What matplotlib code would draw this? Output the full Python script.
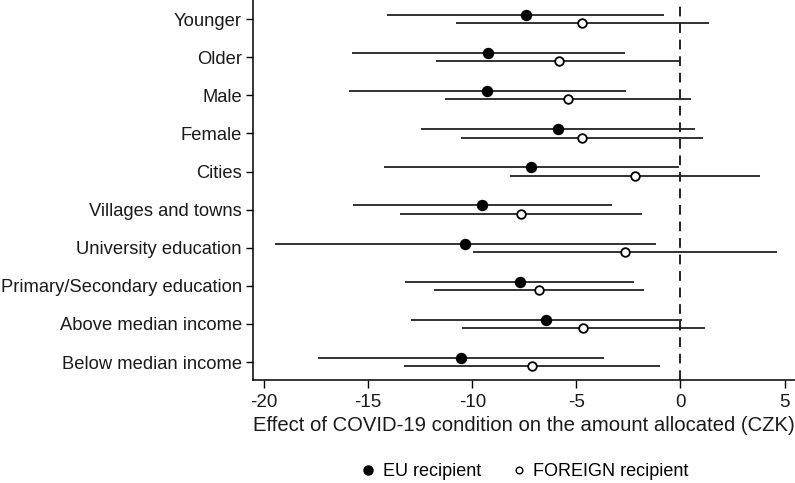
import numpy as np
import matplotlib
matplotlib.use("Agg")
from matplotlib import pyplot as plt
from matplotlib.lines import Line2D

plt.rcParams["font.family"] = ["Liberation Sans", "DejaVu Sans"]

categories = [
    "Younger",
    "Older",
    "Male",
    "Female",
    "Cities",
    "Villages and towns",
    "University education",
    "Primary/Secondary education",
    "Above median income",
    "Below median income",
]

# EU recipient: estimate and 95% CI
eu_est = [-7.42, -9.22, -9.27, -5.89, -7.18, -9.52, -10.34, -7.73, -6.45, -10.55]
eu_lo = [-14.10, -15.78, -15.90, -12.46, -14.25, -15.75, -19.45, -13.21, -12.95, -17.41]
eu_hi = [-0.77, -2.65, -2.61, 0.70, -0.09, -3.31, -1.19, -2.25, 0.09, -3.67]

# FOREIGN recipient: estimate and 95% CI
fr_est = [-4.71, -5.84, -5.39, -4.74, -2.17, -7.68, -2.68, -6.79, -4.66, -7.13]
fr_lo = [-10.77, -11.72, -11.31, -10.56, -8.17, -13.48, -9.95, -11.83, -10.48, -13.26]
fr_hi = [1.38, 0.0, 0.51, 1.09, 3.84, -1.83, 4.64, -1.74, 1.18, -0.97]

x_ticks = [-20, -15, -10, -5, 0, 5]


def main():
    n = len(categories)
    ys = np.arange(n, 0, -1)
    off = 0.11

    fig = plt.figure(figsize=(7.95, 4.83), dpi=100)
    ax = fig.add_axes([253 / 795, 103 / 483, 1 - 253 / 795, 1 - 103 / 483])

    ax.axvline(0, color="#222222", linestyle=(0, (5, 3.5)), linewidth=1.4, zorder=1)

    ax.hlines(ys + off, eu_lo, eu_hi, color="#222222", linewidth=1.3, zorder=2)
    ax.hlines(ys - off, fr_lo, fr_hi, color="#222222", linewidth=1.3, zorder=2)
    ax.plot(eu_est, ys + off, linestyle="", marker="o", markersize=7.2,
            markerfacecolor="black", markeredgecolor="black", zorder=3)
    ax.plot(fr_est, ys - off, linestyle="", marker="o", markersize=6.2,
            markerfacecolor="white", markeredgecolor="black",
            markeredgewidth=1.3, zorder=3)

    ax.set_xlim(-20.53, 5.5)
    ax.set_ylim(0.53, n + 0.5)
    ax.set_yticks(ys)
    ax.set_yticklabels(categories, fontsize=13.2, color="#1a1a1a")
    ax.set_xticks(x_ticks)
    ax.set_xticklabels([str(t) for t in x_ticks], fontsize=13.5, color="#1a1a1a")
    ax.tick_params(axis="y", length=5, width=1, pad=3)
    ax.tick_params(axis="x", length=6, width=1, pad=4)
    ax.spines["top"].set_visible(False)
    ax.spines["right"].set_visible(False)
    ax.spines["left"].set_linewidth(1.1)
    ax.spines["bottom"].set_linewidth(1.1)
    ax.set_xlabel("Effect of COVID-19 condition on the amount allocated (CZK)",
                  fontsize=14.6, color="#1a1a1a", labelpad=4)

    handles = [
        Line2D([], [], linestyle="", marker="o", markersize=6.5,
               markerfacecolor="black", markeredgecolor="black",
               label="EU recipient"),
        Line2D([], [], linestyle="", marker="o", markersize=4.8,
               markerfacecolor="white", markeredgecolor="black",
               markeredgewidth=1.0, label="FOREIGN recipient"),
    ]
    fig.legend(handles=handles, loc="center", bbox_to_anchor=(524 / 795, 1 - 472 / 483),
               ncol=2, frameon=False, fontsize=13, handletextpad=0.3,
               columnspacing=1.6, handlelength=1.0)

    fig.savefig("out.png", dpi=100)
    plt.close(fig)


if __name__ == "__main__":
    main()
